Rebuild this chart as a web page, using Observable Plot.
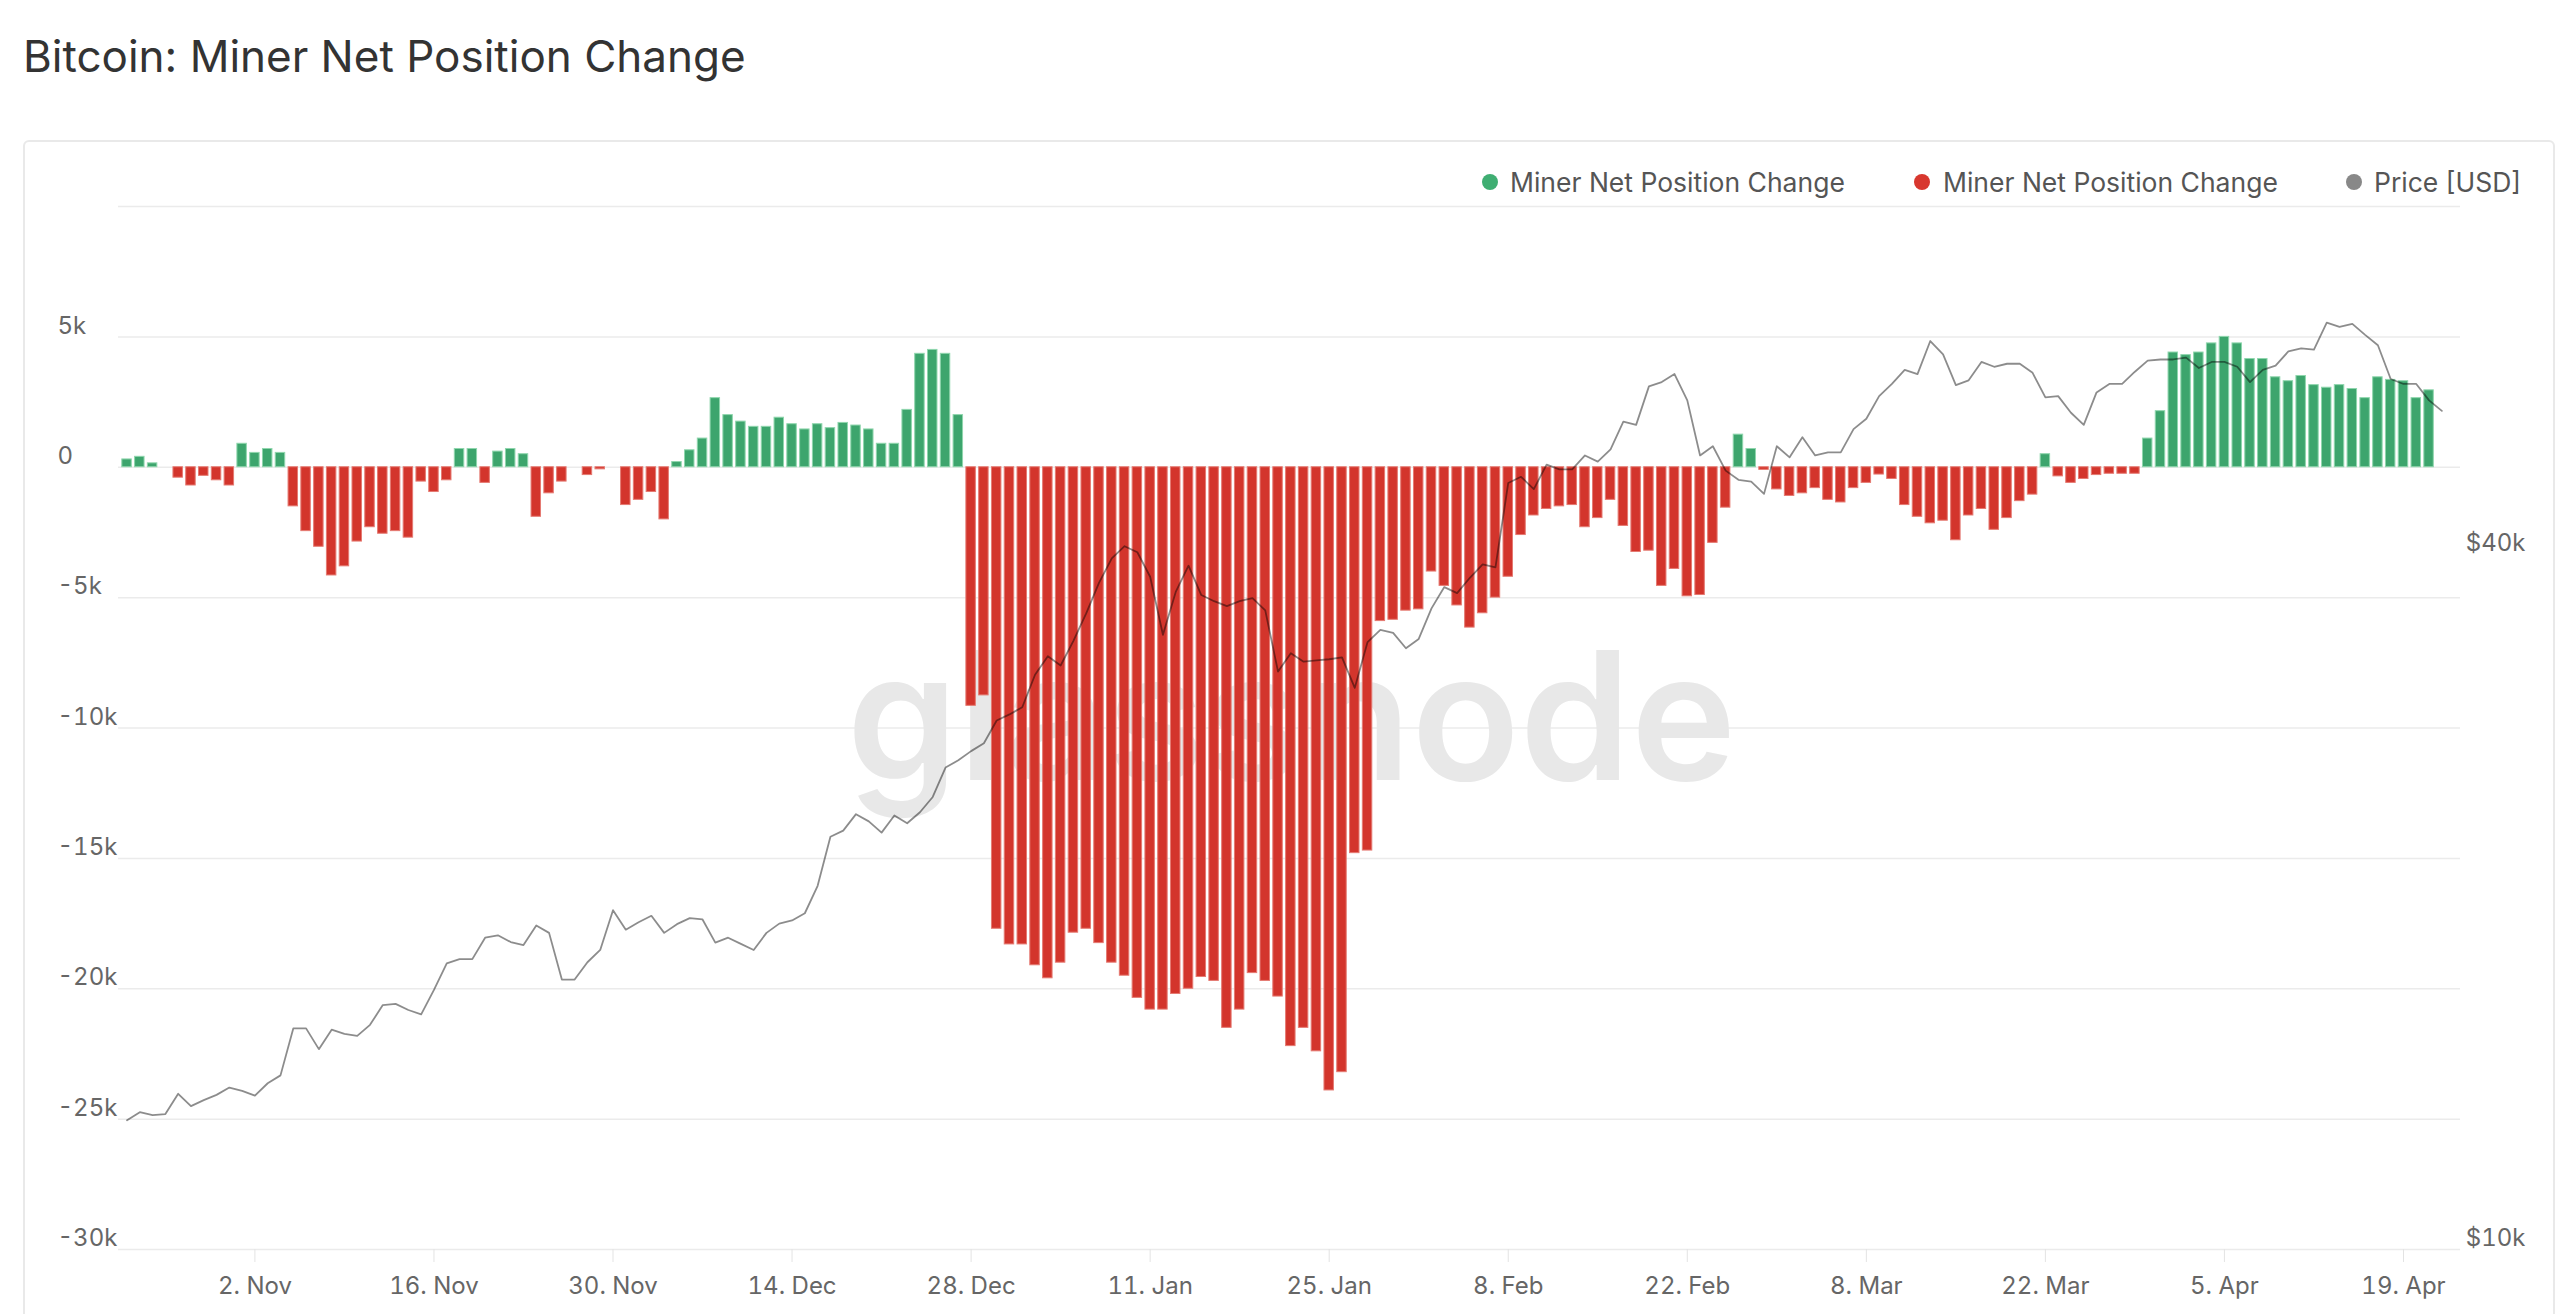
<!DOCTYPE html>
<html>
<head>
<meta charset="utf-8">
<script src="https://cdn.jsdelivr.net/npm/d3@7"></script>
<script src="https://cdn.jsdelivr.net/npm/@observablehq/plot@0.6"></script>
<style>
html, body { margin: 0; padding: 0; background: #fff; width: 2560px; height: 1314px; overflow: hidden; font-family: Inter, "Open Sans", sans-serif; }
#title { position: absolute; left: 23px; top: 34px; font-size: 44px; line-height: 44px; color: #333; white-space: nowrap; }
#box { position: absolute; left: 23px; top: 140px; width: 2528px; height: 1300px; border: 2px solid #e9e9e9; border-radius: 6px; }
.leg { position: absolute; top: 169px; font-size: 26.5px; line-height: 26.5px; color: #555; white-space: nowrap; }
.dot { position: absolute; top: 174px; width: 16px; height: 16px; border-radius: 50%; }
.chart { position: absolute; left: 0; top: 195px; }
</style>
</head>
<body>
<div id="title"></div>
<div id="box"></div>
<div id="legend"></div>
<div id="chart1" class="chart"></div>
<div id="chart2" class="chart"></div>
<script>
// ---- data ----
const titleText = "Bitcoin: Miner Net Position Change";
const legendLabels = ["Miner Net Position Change", "Miner Net Position Change", "Price [USD]"];
const legendColors = ["#3fae72", "#d8372e", "#888888"];
const firstDay = "2020-10-23";
// daily miner net position change (BTC), 23 Oct 2020 .. 21 Apr 2021
const netChange = [
  300, 400, 150, 0, -400, -700, -330, -500, -700, 900,
  550, 700, 550, -1500, -2450, -3050, -4150, -3800, -2850, -2300,
  -2550, -2450, -2700, -550, -950, -500, 700, 700, -600, 600,
  700, 500, -1900, -1000, -550, 0, -300, -80, 0, -1450,
  -1250, -950, -2000, 200, 650, 1100, 2650, 2000, 1750, 1550,
  1550, 1900, 1650, 1450, 1650, 1500, 1700, 1600, 1450, 900,
  900, 2200, 4350, 4500, 4350, 2000, -9150, -8750, -17700, -18300,
  -18300, -19100, -19600, -19000, -17850, -17700, -18250, -19000, -19500, -20350,
  -20800, -20800, -20200, -20000, -19550, -19700, -21500, -20800, -19400, -19700,
  -20300, -22200, -21500, -22400, -23900, -23200, -14800, -14700, -5900, -5850,
  -5500, -5450, -4000, -4550, -5300, -6150, -5600, -5000, -4200, -2600,
  -1850, -1600, -1500, -1450, -2300, -1950, -1250, -2250, -3250, -3200,
  -4550, -3900, -4950, -4900, -2900, -1550, 1250, 700, -100, -850,
  -1100, -1000, -800, -1250, -1350, -800, -600, -280, -450, -1450,
  -1900, -2150, -2050, -2800, -1850, -1600, -2400, -1950, -1300, -1050,
  500, -350, -600, -450, -300, -250, -250, -250, 1100, 2150,
  4400, 4300, 4400, 4750, 5000, 4750, 4150, 4150, 3450, 3300,
  3500, 3150, 3050, 3150, 3000, 2650, 3450, 3350, 3300, 2650,
  2950
];
// daily BTC price (USD), 23 Oct 2020 .. 22 Apr 2021
const priceUSD = [
  12940, 13150, 13070, 13100, 13640, 13310, 13470, 13610, 13810, 13720,
  13590, 13930, 14150, 15540, 15540, 14910, 15500, 15370, 15310, 15650,
  16280, 16320, 16120, 15980, 16780, 17690, 17840, 17840, 18620, 18710,
  18460, 18350, 19080, 18800, 17130, 17130, 17730, 18170, 19670, 18920,
  19200, 19450, 18800, 19130, 19360, 19310, 18440, 18620, 18390, 18170,
  18800, 19150, 19270, 19550, 20650, 22770, 23050, 23820, 23480, 22960,
  23760, 23390, 23910, 24650, 26140, 26520, 27010, 27440, 28710, 29060,
  29480, 31450, 32630, 32040, 33650, 35540, 37780, 39670, 40640, 40150,
  38240, 34060, 37100, 39090, 36870, 36420, 36070, 36420, 36640, 35760,
  31650, 32830, 32280, 32360, 32440, 32560, 30640, 33570, 34400, 34190,
  33160, 33780, 35900, 37460, 37010, 38160, 39200, 38960, 46100, 46670,
  45540, 47820, 47360, 47360, 48700, 48110, 49300, 52090, 51760, 55890,
  56370, 57280, 54350, 48700, 49600, 47250, 46390, 46230, 45110, 49600,
  48520, 50510, 48700, 49000, 49000, 51320, 52400, 54810, 56160, 57770,
  57280, 61180, 59570, 56030, 56570, 58680, 58120, 58470, 58470, 57420,
  54680, 54810, 53030, 51760, 55220, 56160, 56160, 57550, 58830, 58970,
  58970, 59190, 57980, 58680, 58680, 58120, 56370, 57770, 58260, 59930,
  60300, 60150, 63460, 62920, 63310, 61940, 60670, 56720, 56160, 56160,
  54350, 53230
];
const xTickDates = ["2020-11-02", "2020-11-16", "2020-11-30", "2020-12-14", "2020-12-28",
  "2021-01-11", "2021-01-25", "2021-02-08", "2021-02-22", "2021-03-08", "2021-03-22",
  "2021-04-05", "2021-04-19"];
const yTicks = [-30000, -25000, -20000, -15000, -10000, -5000, 0, 5000];
const yGrid = [-30000, -25000, -20000, -15000, -10000, -5000, 0, 5000, 10000];
const priceTicks = [10000, 40000];
const watermark = "glassnode";

// ---- build ----
document.getElementById("title").textContent = titleText;
const legendLefts = [[1482, 1510], [1914, 1943], [2346, 2374]];
const legend = document.getElementById("legend");
legendLabels.forEach((lab, i) => {
  const dot = document.createElement("div");
  dot.className = "dot";
  dot.style.left = legendLefts[i][0] + "px";
  dot.style.background = legendColors[i];
  legend.appendChild(dot);
  const t = document.createElement("div");
  t.className = "leg";
  t.style.left = legendLefts[i][1] + "px";
  t.textContent = lab;
  legend.appendChild(t);
});

const parse = s => new Date(s + "T00:00:00Z");
const start = parse(firstDay);
const days = d3.utcDay.range(start, d3.utcDay.offset(start, priceUSD.length));
const flowData = netChange.map((v, i) => ({date: days[i], value: v}));
const priceData = priceUSD.map((v, i) => ({date: days[i], price: v}));
const xTicks = xTickDates.map(parse);
const half = 0.37 * 864e5;
const green = "#3da56d", red = "#d3352c";

const common = {
  width: 2560, height: 1119,
  marginLeft: 118, marginRight: 100, marginTop: 11, marginBottom: 65,
  x: {type: "utc", domain: [new Date("2020-10-22T08:00:00Z"), new Date("2021-04-23T11:00:00Z")]},
  style: {fontFamily: "Inter, sans-serif", fontSize: "24px", color: "#666", background: "transparent", overflow: "visible"}
};

const chart1 = Plot.plot({
  ...common,
  y: {domain: [-30000, 10000]},
  marks: [
    Plot.gridY(yGrid, {stroke: "#ebebeb", strokeOpacity: 1, strokeWidth: 1.5}),
    Plot.text([watermark], {frameAnchor: "middle", fontSize: 178, fontWeight: 600, fill: "#e8e8e8", dx: 2, dy: -5}),
    Plot.rect(flowData.filter(d => d.value >= 0), {
      x1: d => new Date(+d.date - half), x2: d => new Date(+d.date + half),
      y1: 0, y2: "value", fill: green, stroke: "#8fd6ad", strokeWidth: 1
    }),
    Plot.rect(flowData.filter(d => d.value < 0), {
      x1: d => new Date(+d.date - half), x2: d => new Date(+d.date + half),
      y1: 0, y2: "value", fill: red, stroke: "#e57a72", strokeWidth: 1
    }),
    Plot.axisY(yTicks, {anchor: "left", label: null, tickSize: 0, tickPadding: 0, textAnchor: "start", dx: -61, dy: -11,
      tickFormat: d => d === 0 ? "0" : `${d / 1000}k`, fill: "#666"}),
    Plot.axisX(xTicks, {label: null, tickSize: 13, tickPadding: 14, tickFormat: d3.utcFormat("%-d. %b"), stroke: "#e3e3e3", fill: "#666"})
  ]
});
document.getElementById("chart1").appendChild(chart1);

const chart2 = Plot.plot({
  ...common,
  x: {...common.x, axis: null},
  y: {type: "log", domain: [10000, 80000]},
  marks: [
    Plot.line(priceData, {x: "date", y: "price", stroke: "#000", strokeOpacity: 0.45, strokeWidth: 1.8}),
    Plot.axisY(priceTicks, {anchor: "right", label: null, tickSize: 0, tickPadding: 0, textAnchor: "end", dx: 65, dy: -11,
      tickFormat: d => `$${d / 1000}k`, fill: "#666"})
  ]
});
document.getElementById("chart2").appendChild(chart2);
</script>
</body>
</html>
